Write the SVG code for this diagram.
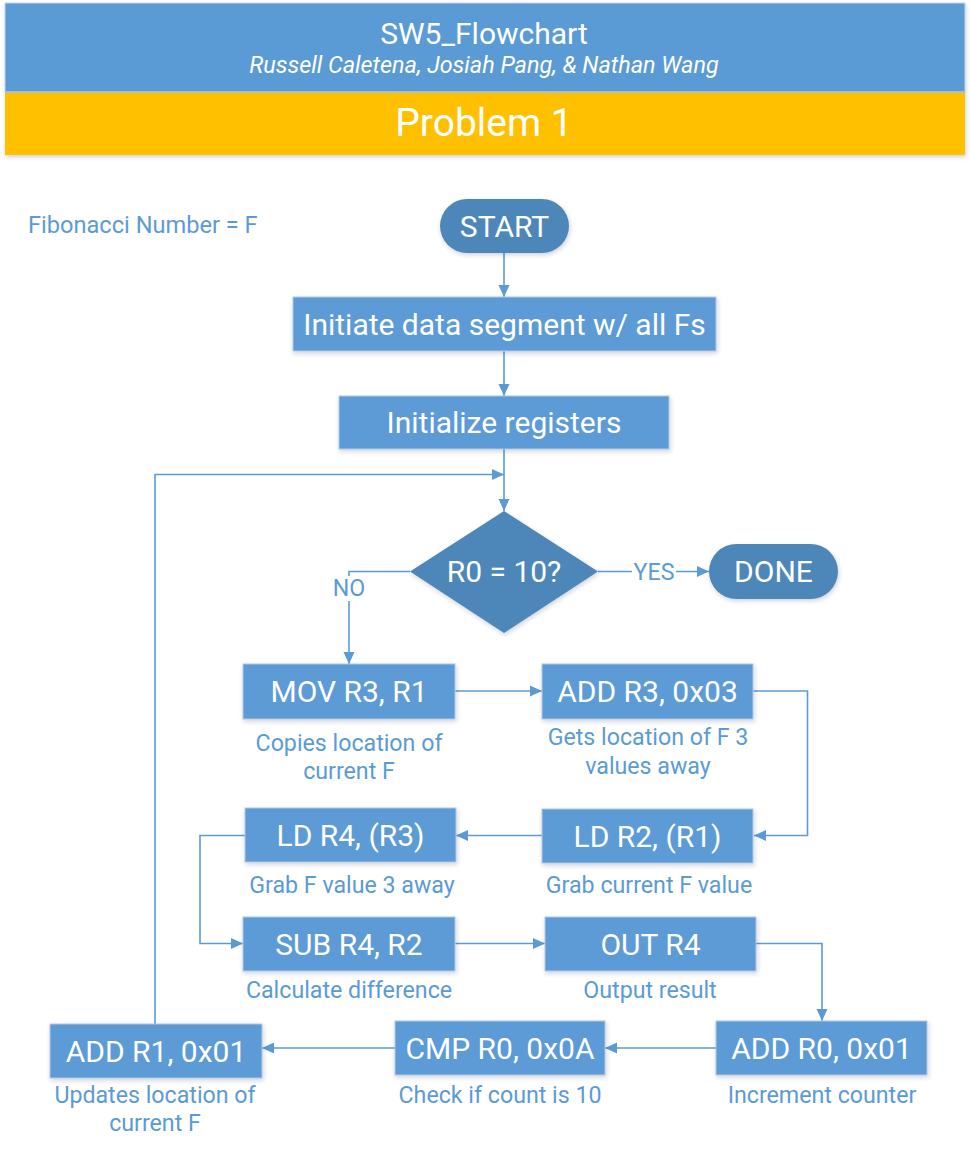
<svg xmlns="http://www.w3.org/2000/svg" width="970" height="1151" viewBox="0 0 970 1151">
<defs>
<filter id="sh" x="-10%" y="-20%" width="125%" height="150%">
<feDropShadow dx="1" dy="2" stdDeviation="2" flood-color="#1f3b5a" flood-opacity="0.22"/>
</filter>
<marker id="ah" markerUnits="userSpaceOnUse" markerWidth="14" markerHeight="14" viewBox="0 0 14 14" refX="13" refY="7" orient="auto">
<path d="M1,1.5 L13,7 L1,12.5 Z" fill="#5b9bd5"/>
</marker>
<style>
.proc{fill:#5b9bd5;stroke:#b3c9e3;stroke-width:1;filter:url(#sh)}
.term{fill:#4e87b9;filter:url(#sh)}
.lbl{font-family:Roboto,"Liberation Sans",sans-serif;font-size:30px;fill:#ffffff;text-anchor:middle}
.cap{font-family:Roboto,"Liberation Sans",sans-serif;font-size:23.2px;fill:#5b9bd5;text-anchor:middle}
.con{fill:none;stroke:#5b9bd5;stroke-width:1.6}
.arr{marker-end:url(#ah)}
</style>
</defs>
<rect width="970" height="1151" fill="#ffffff"/>
<g id="header">
<rect x="5" y="3" width="960" height="152" fill="#ffffff" filter="url(#sh)"/>
<rect x="5" y="3" width="960" height="89" fill="#5b9bd5" stroke="#c9d6e6" stroke-width="1"/>
<rect x="5" y="92" width="960" height="63" fill="#ffc000"/>
<line x1="5" y1="92" x2="965" y2="92" stroke="#a9c0d8" stroke-width="1.5"/>
<text x="484" y="44" font-family="Roboto,'Liberation Sans',sans-serif" font-size="30" fill="#ffffff" text-anchor="middle">SW5_Flowchart</text>
<text x="484" y="73" font-family="Roboto,'Liberation Sans',sans-serif" font-size="23.4" font-style="italic" fill="#ffffff" text-anchor="middle">Russell Caletena, Josiah Pang, &amp; Nathan Wang</text>
<text x="484" y="136" font-family="Roboto,'Liberation Sans',sans-serif" font-size="39" fill="#ffffff" text-anchor="middle">Problem 1</text>
</g>
<g id="legend">
<text x="28" y="233" font-family="Roboto,'Liberation Sans',sans-serif" font-size="23.6" fill="#5b9bd5">Fibonacci Number = F</text>
</g>
<g id="connectors">
<line class="con arr" x1="504" y1="253" x2="504" y2="297"/>
<line class="con arr" x1="504" y1="351" x2="504" y2="396"/>
<line class="con arr" x1="504" y1="449" x2="504" y2="511"/>
<polyline class="con arr" points="155,1024 155,474.5 504,474.5"/>
<line class="con" x1="598" y1="571.5" x2="632" y2="571.5"/>
<line class="con arr" x1="676" y1="571.5" x2="709" y2="571.5"/>
<polyline class="con" points="410,571.5 349,571.5 349,576"/>
<line class="con arr" x1="349" y1="601" x2="349" y2="664"/>
<line class="con arr" x1="455" y1="691" x2="542" y2="691"/>
<polyline class="con arr" points="753,691 807.5,691 807.5,835.5 754,835.5"/>
<line class="con arr" x1="542" y1="835.5" x2="456" y2="835.5"/>
<polyline class="con arr" points="245,835.5 200,835.5 200,943.5 243,943.5"/>
<line class="con arr" x1="455" y1="943.5" x2="545" y2="943.5"/>
<polyline class="con arr" points="756,943.5 822,943.5 822,1021"/>
<line class="con arr" x1="716" y1="1048" x2="605" y2="1048"/>
<line class="con arr" x1="395" y1="1048" x2="262" y2="1048"/>
<text x="654" y="580" class="cap" font-size="22">YES</text>
<text x="349" y="596" class="cap" font-size="22">NO</text>
</g>
<g id="start">
<rect class="term" x="440" y="199" width="129" height="54" rx="27"/>
<text class="lbl" x="504.5" y="236.5">START</text>
</g>
<g id="init-data">
<rect class="proc" x="293" y="297" width="423" height="54"/>
<text class="lbl" x="504.5" y="334.5">Initiate data segment w/ all Fs</text>
</g>
<g id="init-regs">
<rect class="proc" x="339" y="396" width="330" height="53"/>
<text class="lbl" x="504" y="433">Initialize registers</text>
</g>
<g id="decision">
<polygon class="term" points="504,511 598,571.5 504,633 410,571.5"/>
<text class="lbl" x="504" y="582">R0 = 10?</text>
</g>
<g id="done">
<rect class="term" x="709" y="544" width="129" height="55" rx="27.5"/>
<text class="lbl" x="773.5" y="582">DONE</text>
</g>
<g id="mov">
<rect class="proc" x="243" y="664" width="212" height="55"/>
<text class="lbl" x="349" y="702">MOV R3, R1</text>
<text class="cap" x="349" y="751">Copies location of</text>
<text class="cap" x="349" y="779">current F</text>
</g>
<g id="add-r3">
<rect class="proc" x="542" y="664" width="211" height="55"/>
<text class="lbl" x="647.5" y="702">ADD R3, 0x03</text>
<text class="cap" x="648" y="745">Gets location of F 3</text>
<text class="cap" x="648" y="774">values away</text>
</g>
<g id="ld-r2">
<rect class="proc" x="542" y="809" width="211" height="54"/>
<text class="lbl" x="647.5" y="846.5">LD R2, (R1)</text>
<text class="cap" x="649" y="893">Grab current F value</text>
</g>
<g id="ld-r4">
<rect class="proc" x="245" y="808" width="211" height="54"/>
<text class="lbl" x="350.5" y="845.5">LD R4, (R3)</text>
<text class="cap" x="352" y="893">Grab F value 3 away</text>
</g>
<g id="sub">
<rect class="proc" x="243" y="917" width="212" height="54"/>
<text class="lbl" x="349" y="954.5">SUB R4, R2</text>
<text class="cap" x="349" y="998">Calculate difference</text>
</g>
<g id="out">
<rect class="proc" x="545" y="917" width="211" height="54"/>
<text class="lbl" x="650.5" y="954.5">OUT R4</text>
<text class="cap" x="650" y="998">Output result</text>
</g>
<g id="add-r0">
<rect class="proc" x="716" y="1021" width="211" height="54"/>
<text class="lbl" x="821.5" y="1058.5">ADD R0, 0x01</text>
<text class="cap" x="822" y="1103">Increment counter</text>
</g>
<g id="cmp">
<rect class="proc" x="395" y="1021" width="210" height="54"/>
<text class="lbl" x="500" y="1058.5">CMP R0, 0x0A</text>
<text class="cap" x="500" y="1103">Check if count is 10</text>
</g>
<g id="add-r1">
<rect class="proc" x="50" y="1024" width="212" height="54"/>
<text class="lbl" x="156" y="1061.5">ADD R1, 0x01</text>
<text class="cap" x="155" y="1103">Updates location of</text>
<text class="cap" x="155" y="1131">current F</text>
</g>
</svg>
